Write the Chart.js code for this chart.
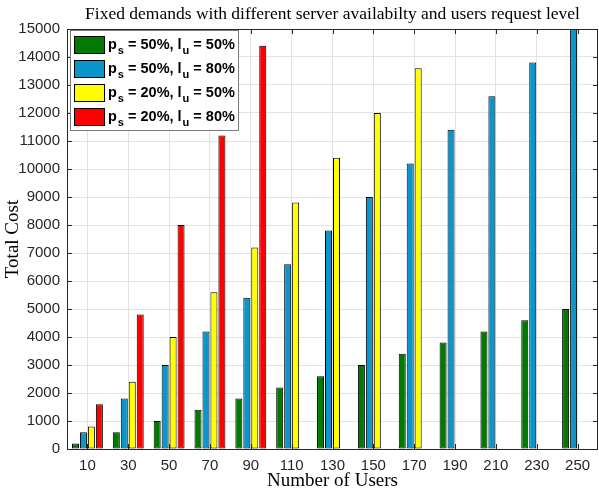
<!DOCTYPE html>
<html>
<head>
<meta charset="utf-8">
<script src="https://cdn.jsdelivr.net/npm/chart.js@4"></script>
<style>
  html, body { margin: 0; padding: 0; background: #fff; }
  #wrap { width: 599px; height: 491px; position: relative; }
</style>
</head>
<body>
<div id="wrap"><canvas id="costChart"></canvas></div>
<script>
// categories (number of users)
const users = ['10', '30', '50', '70', '90', '110', '130', '150', '170', '190', '210', '230', '250'];

// total cost per scenario
const ps50lu50 = [200, 600, 1000, 1400, 1800, 2200, 2600, 3000, 3400, 3800, 4200, 4600, 5000];
const ps50lu80 = [600, 1800, 3000, 4200, 5400, 6600, 7800, 9000, 10200, 11400, 12600, 13800, 15000];
const ps20lu50 = [800, 2400, 4000, 5600, 7200, 8800, 10400, 12000, 13600, 0, 0, 0, 0];
const ps20lu80 = [1600, 4800, 8000, 11200, 14400, 0, 0, 0, 0, 0, 0, 0, 0];

// legend labels, "_x" = subscript x
const seriesLabels = ['p_s = 50%, l_u = 50%', 'p_s = 50%, l_u = 80%', 'p_s = 20%, l_u = 50%', 'p_s = 20%, l_u = 80%'];
const seriesColors = ['#007a00', '#0a96cb', '#ffff00', '#ff0000'];

const chartTitle = 'Fixed demands with different server availabilty and users request level';
const yTicks = { min: 0, max: 15000, step: 1000 };

const axisColor = '#262626';
const sansFont = "'Liberation Sans', Arial, sans-serif";
const serifFont = "'Liberation Serif', 'DejaVu Serif', serif";

// box round the plot with ticks pointing inwards, like matlab
const framePlugin = {
  id: 'frame',
  afterDatasetsDraw(chart) {
    const { ctx, chartArea: a, scales } = chart;
    ctx.save();
    ctx.strokeStyle = axisColor;
    ctx.lineWidth = 1;
    ctx.beginPath();
    ctx.rect(Math.round(a.left) + 0.5, Math.round(a.top) + 0.5, Math.round(a.right - a.left) - 1, Math.round(a.bottom - a.top));
    const len = 5;
    scales.x.ticks.forEach((t, i) => {
      const x = Math.round(scales.x.getPixelForTick(i)) + 0.5;
      ctx.moveTo(x, a.bottom);
      ctx.lineTo(x, a.bottom - len);
      ctx.moveTo(x, a.top);
      ctx.lineTo(x, a.top + len);
    });
    scales.y.ticks.forEach(t => {
      const y = Math.round(scales.y.getPixelForValue(t.value)) + 0.5;
      ctx.moveTo(a.left, y);
      ctx.lineTo(a.left + len, y);
      ctx.moveTo(a.right, y);
      ctx.lineTo(a.right - len, y);
    });
    ctx.stroke();

    // title centred over the axes, not the canvas
    ctx.fillStyle = '#000';
    ctx.font = '17.5px ' + serifFont;
    ctx.textAlign = 'center';
    ctx.textBaseline = 'middle';
    ctx.fillText(chartTitle, (a.left + a.right) / 2, 14);
    ctx.restore();
  }
};

// legend inside the axes, with subscripts
const legendPlugin = {
  id: 'boxLegend',
  afterDraw(chart) {
    const { ctx, chartArea: a } = chart;
    const bx = a.left + 3, by = a.top + 1, bw = 168, bh = 100;
    ctx.save();
    ctx.fillStyle = '#fff';
    ctx.fillRect(bx, by, bw, bh);
    ctx.strokeStyle = '#7a7a7a';
    ctx.lineWidth = 1;
    ctx.strokeRect(bx + 0.5, by + 0.5, bw, bh);
    chart.data.datasets.forEach((ds, i) => {
      const rowY = by + 6 + i * 24;
      ctx.fillStyle = ds.backgroundColor;
      ctx.fillRect(bx + 4, rowY, 30, 17);
      ctx.strokeStyle = '#000';
      ctx.strokeRect(bx + 4.5, rowY + 0.5, 30, 17);
      // text with subscripts
      let x = bx + 38;
      const baseY = rowY + 13;
      const parts = ds.label.split(/(_\w)/);
      ctx.fillStyle = '#000';
      ctx.textBaseline = 'alphabetic';
      parts.forEach(p => {
        if (p.startsWith('_')) {
          ctx.font = 'bold 11px ' + sansFont;
          x += 1;
          ctx.fillText(p.slice(1), x, baseY + 5);
          x += ctx.measureText(p.slice(1)).width;
        } else {
          ctx.font = 'bold 14.5px ' + sansFont;
          ctx.fillText(p, x, baseY);
          x += ctx.measureText(p).width;
        }
      });
    });
    ctx.restore();
  }
};

const datasets = [ps50lu50, ps50lu80, ps20lu50, ps20lu80].map((vals, i) => ({
  label: seriesLabels[i],
  data: vals,
  backgroundColor: seriesColors[i],
  borderColor: '#000',
  borderWidth: 1,
  borderSkipped: false,
  categoryPercentage: 0.78,
  barPercentage: 0.88
}));

new Chart(document.getElementById('costChart'), {
  type: 'bar',
  data: { labels: users, datasets: datasets },
  options: {
    responsive: true,
    maintainAspectRatio: false,
    animation: false,
    layout: { padding: { left: 0, right: 1, top: 29, bottom: 0 } },
    plugins: {
      legend: { display: false },
      tooltip: { enabled: false },
      title: { display: false }
    },
    scales: {
      x: {
        grid: { color: '#e3e3e3', offset: false, drawTicks: false },
        border: { display: false },
        ticks: { color: axisColor, font: { family: sansFont, size: 15 }, padding: 8, maxRotation: 0 },
        title: {
          display: true,
          text: 'Number of Users',
          color: '#000',
          font: { family: serifFont, size: 19, lineHeight: 0.9 },
          padding: { top: 0, bottom: 1 }
        },
        afterFit(s) { s.height = 42; }
      },
      y: {
        min: yTicks.min,
        max: yTicks.max,
        grid: { color: '#e3e3e3', drawTicks: false },
        border: { display: false },
        ticks: {
          stepSize: yTicks.step,
          color: axisColor,
          font: { family: sansFont, size: 15 },
          padding: 7,
          callback: v => String(v)
        },
        title: {
          display: true,
          text: 'Total Cost',
          color: '#000',
          font: { family: serifFont, size: 19 },
          padding: { top: 2, bottom: 0 }
        },
        afterFit(s) { s.width = 67; }
      }
    }
  },
  plugins: [framePlugin, legendPlugin]
});
</script>
</body>
</html>
